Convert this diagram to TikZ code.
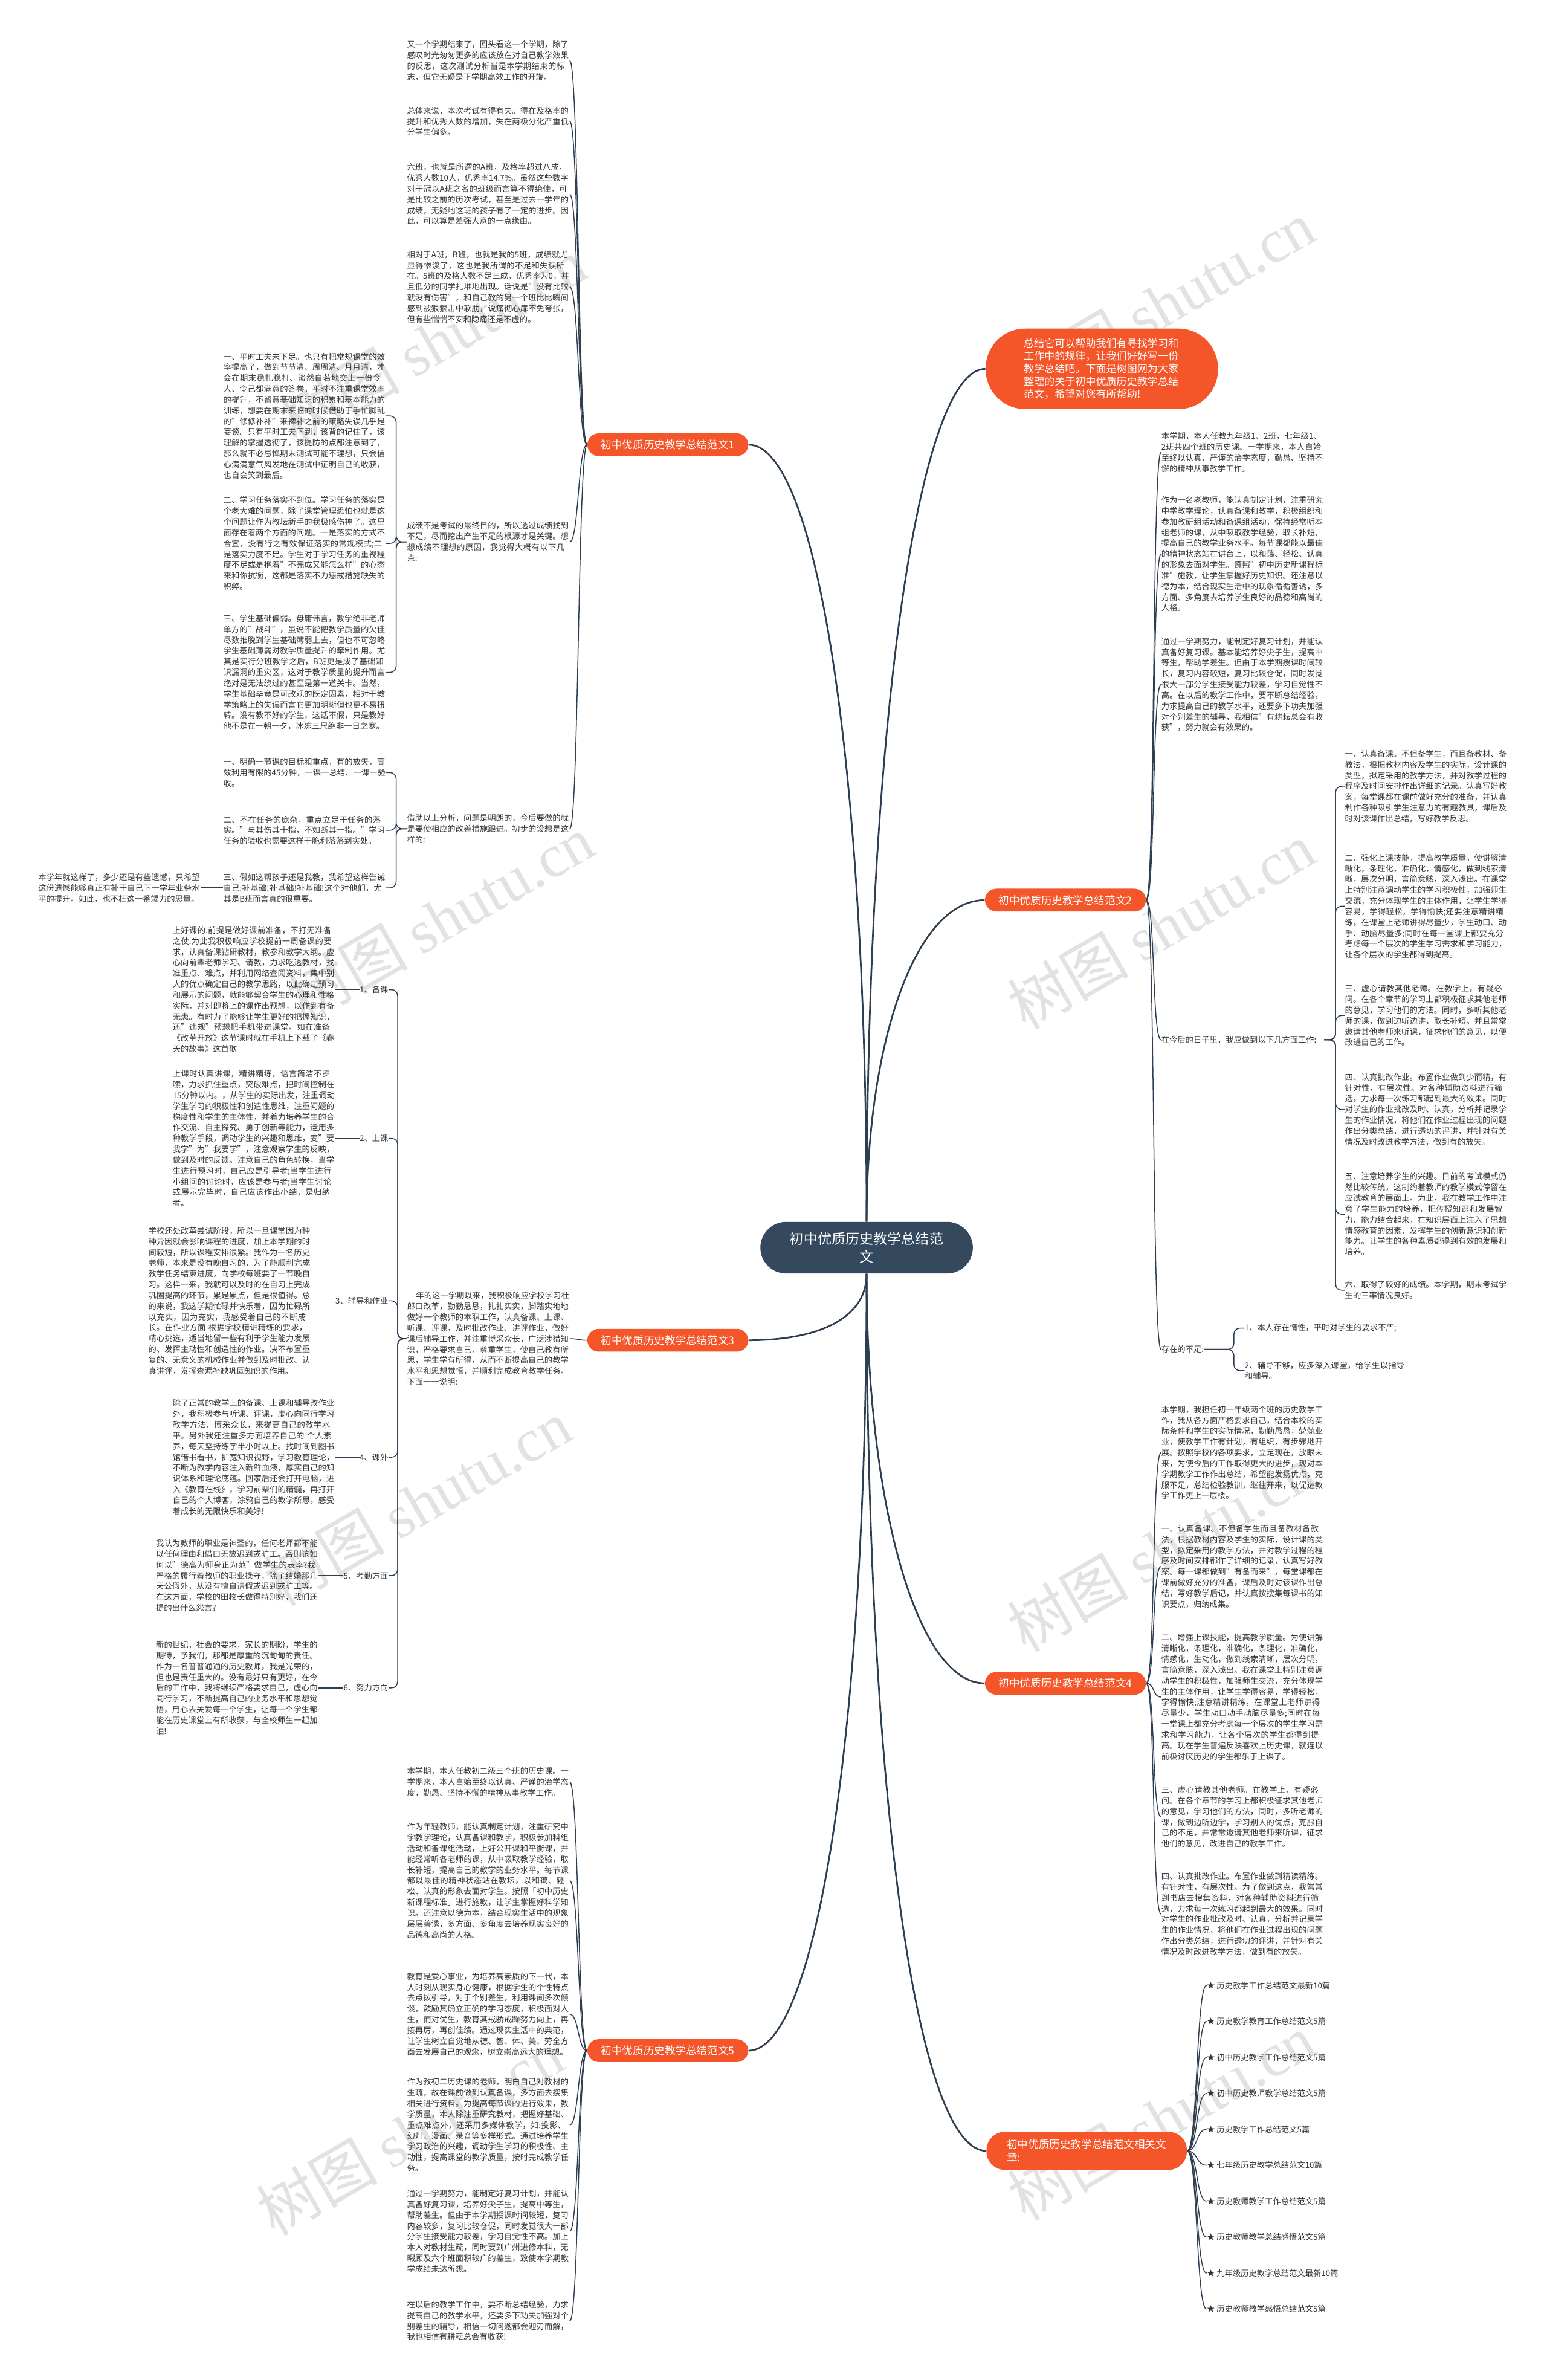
\documentclass[tikz,border=0pt]{standalone}
\usepackage{fontspec}
\setmainfont{Noto Sans CJK SC}
\newfontfamily\wmfont{Liberation Serif}
\XeTeXlinebreaklocale "zh"
\XeTeXlinebreakskip=0pt plus 0.6pt
\definecolor{rootc}{RGB}{52,73,94}
\definecolor{orangec}{RGB}{244,86,42}
\definecolor{linec}{RGB}{44,62,80}
\definecolor{txtc}{RGB}{51,51,51}
\definecolor{wmc}{RGB}{226,226,226}

\begin{document}
\begin{tikzpicture}[x=1pt,y=-1pt,
  blk/.style={text width=107pt,align=left,inner sep=0pt,text=txtc,font=\fontsize{5.3}{7.1}\selectfont},
  lab/.style={inner sep=0pt,text=txtc,font=\fontsize{5.3}{7.1}\selectfont},
  branch/.style={fill=orangec,text=white,rounded corners=7.5pt,minimum width=106pt,minimum height=15pt,inner sep=0pt,font=\fontsize{7}{8.5}\selectfont},
  link/.style={draw=linec,line width=1.1pt},
  twig/.style={draw=linec,line width=0.6pt},
  wm/.style={text=wmc,rotate=30,font=\fontsize{40}{40}\selectfont}]
  \useasboundingbox[fill=white] (0,0) rectangle (1019,1568);
  % marcas de agua
  \foreach \p in {(285,225),(765,200),(290,605),(765,610),(275,990),(765,1020),(270,1405),(765,1395)}
    \node at \p[wm]{树图 {\wmfont shutu.cn}};
  % tema central
  \node (root) at (571,822)[fill=rootc,text=white,rounded corners=17pt,minimum width=140pt,minimum height=34pt,align=center,font=\fontsize{9.2}{12}\selectfont]{初中优质历史教学总结范\\文};
  \node (intro) at (726,243)[fill=orangec,text=white,rounded corners=26pt,minimum width=153pt,minimum height=53pt,text width=103pt,align=left,inner sep=0pt,font=\fontsize{6.8}{8.4}\selectfont]{总结它可以帮助我们有寻找学习和\\工作中的规律，让我们好好写一份\\教学总结吧。下面是树图网为大家\\整理的关于初中优质历史教学总结\\范文，希望对您有所帮助!};
  \node (b1) at (440,293)[branch]{初中优质历史教学总结范文1};
  \node (b2) at (702,593)[branch]{初中优质历史教学总结范文2};
  \node (b3) at (440,883)[branch]{初中优质历史教学总结范文3};
  \node (b4) at (702,1109)[branch]{初中优质历史教学总结范文4};
  \node (b5) at (440,1351)[branch]{初中优质历史教学总结范文5};
  \node (b6) at (716,1417)[branch,minimum width=132pt,minimum height=25pt,text width=105pt,align=left,rounded corners=12pt]{初中优质历史教学总结范文相关文\\章:};

  % rama 1
  \node (a1) at (268,40)[blk,anchor=west]{又一个学期结束了，回头看这一个学期，除了感叹时光匆匆更多的应该放在对自己教学效果的反思，这次测试分析当是本学期结束的标志，但它无疑是下学期高效工作的开端。};
  \node (a2) at (268,80)[blk,anchor=west]{总体来说，本次考试有得有失。得在及格率的提升和优秀人数的增加，失在两极分化严重低分学生偏多。};
  \node (a3) at (268,128)[blk,anchor=west]{六班，也就是所谓的A班，及格率超过八成，优秀人数10人，优秀率14.7\%。虽然这些数字对于冠以A班之名的班级而言算不得绝佳，可是比较之前的历次考试，甚至是过去一学年的成绩，无疑地这班的孩子有了一定的进步。因此，可以算是差强人意的一点缘由。};
  \node (a4) at (268,189)[blk,anchor=west]{相对于A班，B班，也就是我的5班，成绩就尤显得惨淡了，这也是我所谓的不足和失误所在。5班的及格人数不足三成，优秀率为0，并且低分的同学扎堆地出现。话说是"没有比较就没有伤害"，和自己教的另一个班比比瞬间感到被狠狠击中软肋，说痛彻心扉不免夸张，但有些惴惴不安和隐痛还是不虚的。};
  \node (a5) at (268,357)[blk,anchor=west]{成绩不是考试的最终目的，所以透过成绩找到不足，尽而挖出产生不足的根源才是关键。想想成绩不理想的原因，我觉得大概有以下几点:};
  \node (a6) at (268,546)[blk,anchor=west]{借助以上分析，问题是明朗的，今后要做的就是要使相应的改善措施跟进。初步的设想是这样的:};
  \node (e1) at (147,274)[blk,anchor=west]{一、平时工夫未下足。也只有把常规课堂的效率提高了，做到节节清、周周清、月月清，才会在期末稳扎稳打、淡然自若地交上一份令人、令己都满意的答卷。平时不注重课堂效率的提升，不留意基础知识的积累和基本能力的训练，想要在期末来临的时候借助于手忙脚乱的"修修补补"来裨补之前的策略失误几乎是妄谈。只有平时工夫下到，该背的记住了，该理解的掌握透彻了，该提防的点都注意到了，那么就不必忌惮期末测试可能不理想，只会信心满满意气风发地在测试中证明自己的收获，也自会笑到最后。};
  \node (e2) at (147,358)[blk,anchor=west]{二、学习任务落实不到位。学习任务的落实是个老大难的问题，除了课堂管理恐怕也就是这个问题让作为教坛新手的我极感伤神了。这里面存在着两个方面的问题。一是落实的方式不合宜，没有行之有效保证落实的常规模式;二是落实力度不足。学生对于学习任务的重视程度不足或是抱着"不完成又能怎么样"的心态来和你抗衡，这都是落实不力惩戒措施缺失的积弊。};
  \node (e3) at (147,443)[blk,anchor=west]{三、学生基础偏弱。毋庸讳言，教学绝非老师单方的"战斗"，虽说不能把教学质量的欠佳尽数推脱到学生基础薄弱上去，但也不可忽略学生基础薄弱对教学质量提升的牵制作用。尤其是实行分班教学之后，B班更是成了基础知识漏洞的重灾区，这对于教学质量的提升而言绝对是无法绕过的甚至是第一道关卡。当然，学生基础毕竟是可改观的既定因素，相对于教学策略上的失误而言它更加明晰但也更不易扭转。没有教不好的学生，这话不假，只是教好他不是在一朝一夕，冰冻三尺绝非一日之寒。};
  \node (f1) at (147,509)[blk,anchor=west]{一、明确一节课的目标和重点，有的放矢，高效利用有限的45分钟，一课一总结、一课一验收。};
  \node (f2) at (147,547)[blk,anchor=west]{二、不在任务的庞杂，重点立足于任务的落实。"与其伤其十指，不如断其一指。"学习任务的验收也需要这样干脆利落落到实处。};
  \node (f3) at (147,585)[blk,anchor=west]{三、假如这帮孩子还是我教，我希望这样告诫自己:补基础!补基础!补基础!这个对他们，尤其是B班而言真的很重要。};
  \node (f4) at (25,585)[blk,anchor=west]{本学年就这样了，多少还是有些遗憾，只希望这份遗憾能够真正有补于自己下一学年业务水平的提升。如此，也不枉这一番竭力的思量。};

  % rama 2
  \node (g1) at (765,298)[blk,anchor=west]{本学期，本人任教九年级1、2班，七年级1、2班共四个班的历史课。一学期来，本人自始至终以认真、严谨的治学态度，勤恳、坚持不懈的精神从事教学工作。};
  \node (g2) at (765,365)[blk,anchor=west]{作为一名老教师，能认真制定计划，注重研究中学教学理论，认真备课和教学，积极组织和参加教研组活动和备课组活动，保持经常听本组老师的课，从中吸取教学经验，取长补短，提高自己的教学业务水平。每节课都能以最佳的精神状态站在讲台上，以和蔼、轻松、认真的形象去面对学生。遵照"初中历史新课程标准"施教，让学生掌握好历史知识。还注意以德为本，结合现实生活中的现象循循善诱，多方面、多角度去培养学生良好的品德和高尚的人格。};
  \node (g3) at (765,451)[blk,anchor=west]{通过一学期努力，能制定好复习计划，并能认真备好复习课。基本能培养好尖子生，提高中等生，帮助学差生。但由于本学期授课时间较长，复习内容较短，复习比较仓促，同时发觉很大一部分学生接受能力较差，学习自觉性不高。在以后的教学工作中，要不断总结经验，力求提高自己的教学水平，还要多下功夫加强对个别差生的辅导，我相信"有耕耘总会有收获"，努力就会有效果的。};
  \node (g4) at (765,685)[blk,anchor=west]{在今后的日子里，我应做到以下几方面工作:};
  \node (g5) at (765,889)[lab,anchor=west]{存在的不足:};
  \node (ga) at (886,518)[blk,anchor=west]{一、认真备课。不但备学生，而且备教材、备教法，根据教材内容及学生的实际，设计课的类型，拟定采用的教学方法，并对教学过程的程序及时间安排作出详细的记录。认真写好教案，每堂课都在课前做好充分的准备，并认真制作各种吸引学生注意力的有趣教具，课后及时对该课作出总结，写好教学反思。};
  \node (gb) at (886,597)[blk,anchor=west]{二、强化上课技能，提高教学质量。使讲解清晰化，条理化，准确化，情感化，做到线索清晰，层次分明，言简意赅，深入浅出。在课堂上特别注意调动学生的学习积极性，加强师生交流，充分体现学生的主体作用，让学生学得容易，学得轻松，学得愉快;还要注意精讲精练，在课堂上老师讲得尽量少，学生动口、动手、动脑尽量多;同时在每一堂课上都要充分考虑每一个层次的学生学习需求和学习能力，让各个层次的学生都得到提高。};
  \node (gc) at (886,669)[blk,anchor=west]{三、虚心请教其他老师。在教学上，有疑必问。在各个章节的学习上都积极征求其他老师的意见，学习他们的方法。同时，多听其他老师的课，做到边听边讲，取长补短。并且常常邀请其他老师来听课，征求他们的意见，以便改进自己的工作。};
  \node (gd) at (886,731)[blk,anchor=west]{四、认真批改作业。布置作业做到少而精，有针对性，有层次性。对各种辅助资料进行筛选，力求每一次练习都起到最大的效果。同时对学生的作业批改及时、认真，分析并记录学生的作业情况，将他们在作业过程出现的问题作出分类总结，进行透切的评讲，并针对有关情况及时改进教学方法，做到有的放矢。};
  \node (ge) at (886,800)[blk,anchor=west]{五、注意培养学生的兴趣。目前的考试模式仍然比较传统，这制约着教师的教学模式停留在应试教育的层面上。为此，我在教学工作中注意了学生能力的培养，把传授知识和发展智力、能力结合起来，在知识层面上注入了思想情感教育的因素，发挥学生的创新意识和创新能力。让学生的各种素质都得到有效的发展和培养。};
  \node (gf) at (886,850)[blk,anchor=west]{六、取得了较好的成绩。本学期，期末考试学生的三率情况良好。};
  \node (gx) at (820,875)[blk,anchor=west]{1、本人存在惰性，平时对学生的要求不严;};
  \node (gy) at (820,903)[blk,anchor=west]{2、辅导不够，应多深入课堂，给学生以指导和辅导。};

  % rama 3
  \node (h0) at (268,882)[blk,anchor=west]{\_\_年的这一学期以来，我积极响应学校学习杜郎口改革，勤勤恳恳，扎扎实实，脚踏实地地做好一个教师的本职工作，认真备课、上课、听课、评课，及时批改作业、讲评作业，做好课后辅导工作，并注重博采众长，广泛涉猎知识，严格要求自己，尊重学生，使自己教有所思，学生学有所得，从而不断提高自己的教学水平和思想觉悟，并顺利完成教育教学任务。下面一一说明:};
  \node (l1) at (256,652)[lab,anchor=east]{1、备课};
  \node (l2) at (256,750)[lab,anchor=east]{2、上课};
  \node (l3) at (256,857)[lab,anchor=east]{3、辅导和作业};
  \node (l4) at (256,960)[lab,anchor=east]{4、课外};
  \node (l5) at (256,1038)[lab,anchor=east]{5、考勤方面};
  \node (l6) at (256,1112)[lab,anchor=east]{6、努力方向};
  \node (t1) at (221,652)[blk,anchor=east]{上好课的.前提是做好课前准备，不打无准备之仗.为此我积极响应学校提前一周备课的要求，认真备课钻研教材，教参和教学大纲。虚心向前辈老师学习、请教，力求吃透教材，找准重点、难点，并利用网络查阅资料，集中别人的优点确定自己的教学思路，以此确定预习和展示的问题，就能够契合学生的心理和性格实际，并对即将上的课作出预想，以作到有备无患。有时为了能够让学生更好的把握知识，还"违规"预想把手机带进课堂。如在准备《改革开放》这节课时就在手机上下载了《春天的故事》这首歌};
  \node (t2) at (221,750)[blk,anchor=east]{上课时认真讲课，精讲精练，语言简洁不罗嗦，力求抓住重点，突破难点，把时间控制在15分钟以内。，从学生的实际出发，注重调动学生学习的积极性和创造性思维，注重问题的梯度性和学生的主体性，并着力培养学生的合作交流、自主探究、勇于创新等能力，运用多种教学手段，调动学生的兴趣和思维，变"要我学"为"我要学"，注意观察学生的反映，做到及时的反馈。注意自己的角色转换，当学生进行预习时，自己应是引导者;当学生进行小组间的讨论时，应该是参与者;当学生讨论或展示完毕时，自己应该作出小结，是归纳者。};
  \node (t3) at (205,857)[blk,anchor=east]{学校还处改革尝试阶段，所以一旦课堂因为种种异因就会影响课程的进度，加上本学期的时间较短，所以课程安排很紧。我作为一名历史老师，本来是没有晚自习的，为了能顺利完成教学任务结束进度，向学校每班要了一节晚自习。这样一来，我就可以及时的在自习上完成巩固提高的环节，累是累点，但是很值得。总的来说，我这学期忙碌并快乐着，因为忙碌所以充实，因为充实，我感受着自己的不断成长。在作业方面 根据学校精讲精练的要求，精心挑选，适当地留一些有利于学生能力发展的、发挥主动性和创造性的作业。决不布置重复的、无意义的机械作业并做到及时批改、认真讲评，发挥查漏补缺巩固知识的作用。};
  \node (t4) at (221,960)[blk,anchor=east]{除了正常的教学上的备课、上课和辅导改作业外，我积极参与听课、评课，虚心向同行学习教学方法，博采众长，来提高自己的教学水平。另外我还注重多方面培养自己的 个人素养，每天坚持练字半小时以上。找时间到图书馆借书看书，扩宽知识视野，学习教育理论，不断为教学内容注入新鲜血液，厚实自己的知识体系和理论底蕴。回家后还会打开电脑，进入《教育在线》，学习前辈们的精髓，再打开自己的个人博客，涂鸦自己的教学所思，感受着成长的无限快乐和美好!};
  \node (t5) at (210,1038)[blk,anchor=east]{我认为教师的职业是神圣的，任何老师都不能以任何理由和借口无故迟到或旷工。否则该如何以"德高为师身正为范"做学生的表率?我严格的履行着教师的职业操守，除了结婚那几天公假外，从没有擅自请假或迟到或旷工等。在这方面，学校的田校长做得特别好，我们还提的出什么怨言?};
  \node (t6) at (210,1112)[blk,anchor=east]{新的世纪，社会的要求，家长的期盼，学生的期待，予我们，那都是厚重的沉甸甸的责任。作为一名普普通通的历史教师，我是光荣的，但也是责任重大的。没有最好只有更好，在今后的工作中，我将继续严格要求自己，虚心向同行学习，不断提高自己的业务水平和思想觉悟，用心去关爱每一个学生，让每一个学生都能在历史课堂上有所收获，与全校师生一起加油!};

  % rama 4
  \node (i1) at (765,957)[blk,anchor=west]{本学期，我担任初一年级两个班的历史教学工作，我从各方面严格要求自己，结合本校的实际条件和学生的实际情况，勤勤恳恳，兢兢业业，使教学工作有计划，有组织，有步骤地开展。按照学校的各项要求，立足现在，放眼未来，为使今后的工作取得更大的进步，现对本学期教学工作作出总结，希望能发扬优点，克服不足，总结检验教训，继往开来，以促进教学工作更上一层楼。};
  \node (i2) at (765,1032)[blk,anchor=west]{一、认真备课。不但备学生而且备教材备教法，根据教材内容及学生的实际，设计课的类型，拟定采用的教学方法，并对教学过程的程序及时间安排都作了详细的记录，认真写好教案。每一课都做到"有备而来"，每堂课都在课前做好充分的准备，课后及时对该课作出总结，写好教学后记，并认真按搜集每课书的知识要点，归纳成集。};
  \node (i3) at (765,1118)[blk,anchor=west]{二、增强上课技能，提高教学质量。为使讲解清晰化，条理化，准确化，条理化，准确化，情感化，生动化，做到线索清晰，层次分明，言简意赅，深入浅出。我在课堂上特别注意调动学生的积极性，加强师生交流，充分体现学生的主体作用，让学生学得容易，学得轻松，学得愉快;注意精讲精练，在课堂上老师讲得尽量少，学生动口动手动脑尽量多;同时在每一堂课上都充分考虑每一个层次的学生学习需求和学习能力，让各个层次的学生都得到提高。现在学生普遍反映喜欢上历史课，就连以前极讨厌历史的学生都乐于上课了。};
  \node (i4) at (765,1197)[blk,anchor=west]{三、虚心请教其他老师。在教学上，有疑必问。在各个章节的学习上都积极征求其他老师的意见，学习他们的方法，同时，多听老师的课，做到边听边学，学习别人的优点，克服自己的不足，并常常邀请其他老师来听课，征求他们的意见，改进自己的教学工作。};
  \node (i5) at (765,1261)[blk,anchor=west]{四、认真批改作业。布置作业做到精读精练。有针对性，有层次性。为了做到这点，我常常到书店去搜集资料，对各种辅助资料进行筛选，力求每一次练习都起到最大的效果。同时对学生的作业批改及时、认真，分析并记录学生的作业情况，将他们在作业过程出现的问题作出分类总结，进行透切的评讲，并针对有关情况及时改进教学方法，做到有的放矢。};

  % rama 5
  \node (j1) at (268,1174)[blk,anchor=west]{本学期，本人任教初二级三个班的历史课。一学期来，本人自始至终以认真、严谨的治学态度，勤恳、坚持不懈的精神从事教学工作。};
  \node (j2) at (268,1239)[blk,anchor=west]{作为年轻教师，能认真制定计划，注重研究中学教学理论，认真备课和教学，积极参加科组活动和备课组活动，上好公开课和平衡课，并能经常听各老师的课，从中吸取教学经验，取长补短，提高自己的教学的业务水平。每节课都以最佳的精神状态站在教坛，以和蔼、轻松、认真的形象去面对学生。按照「初中历史新课程标准」进行施教，让学生掌握好科学知识。还注意以德为本，结合现实生活中的现象层层善诱，多方面、多角度去培养现实良好的品德和高尚的人格。};
  \node (j3) at (268,1327)[blk,anchor=west]{教育是爱心事业，为培养高素质的下一代，本人时刻从现实身心健康，根据学生的个性特点去点拨引导，对于个别差生，利用课间多次倾谈，鼓励其确立正确的学习态度，积极面对人生，而对优生，教育其戒骄戒躁努力向上，再接再厉，再创佳绩。通过现实生活中的典范，让学生树立自觉地从德、智、体、美、劳全方面去发展自己的观念，树立崇高远大的理想。};
  \node (j4) at (268,1400)[blk,anchor=west]{作为教初二历史课的老师，明白自己对教材的生疏，故在课前做到认真备课，多方面去搜集相关进行资料。为提高每节课的进行效果，教学质量，本人除注重研究教材，把握好基础、重点难点外，还采用多媒体教学，如:投影、幻灯、漫画、录音等多样形式。通过培养学生学习政治的兴趣，调动学生学习的积极性、主动性，提高课堂的教学质量，按时完成教学任务。};
  \node (j5) at (268,1470)[blk,anchor=west]{通过一学期努力，能制定好复习计划，并能认真备好复习课，培养好尖子生，提高中等生，帮助差生。但由于本学期授课时间较短，复习内容较多，复习比较仓促，同时发觉很大一部分学生接受能力较差，学习自觉性不高。加上本人对教材生疏，同时要到广州进修本科，无暇顾及六个班面积较广的差生，致使本学期教学成绩未达所想。};
  \node (j6) at (268,1529)[blk,anchor=west]{在以后的教学工作中，要不断总结经验，力求提高自己的教学水平，还要多下功夫加强对个别差生的辅导，相信一切问题都会迎刃而解，我也相信有耕耘总会有收获!};

  % rama 6
  \foreach \t [count=\k] in {历史教学工作总结范文最新10篇,历史教学教育工作总结范文5篇,初中历史教学工作总结范文5篇,初中历史教师教学总结范文5篇,历史教学工作总结范文5篇,七年级历史教学总结范文10篇,历史教师教学工作总结范文5篇,历史教师教学总结感悟范文5篇,九年级历史教学总结范文最新10篇,历史教师教学感悟总结范文5篇}
    \node (k\k) at (795,1284.3+23.7*\k)[lab,anchor=west]{★ \t};

  % conectores del centro
  \draw[link] (root.north) .. controls +(0,-300) and +(45,0) .. (b1.east);
  \draw[link] (root.north) .. controls +(0,-320) and +(-45,0) .. (intro.west);
  \draw[link] (root.north) .. controls +(0,-120) and +(-45,0) .. (b2.west);
  \draw[link] (root.south) .. controls +(0,30) and +(45,0) .. (b3.east);
  \draw[link] (root.south) .. controls +(0,150) and +(-45,0) .. (b4.west);
  \draw[link] (root.south) .. controls +(0,300) and +(45,0) .. (b5.east);
  \draw[link] (root.south) .. controls +(0,350) and +(-45,0) .. (b6.west);
  % conectores de las ramas
  \foreach \c in {a1,a2,a3,a4,a5,a6} \draw[twig] (b1.west) .. controls +(-6,0) and +(6,0) .. (\c.east);
  \foreach \c in {g1,g2,g3,g4,g5} \draw[twig] (b2.east) .. controls +(6,0) and +(-6,0) .. (\c.west);
  \draw[twig] (b3.west) .. controls +(-6,0) and +(6,0) .. (h0.east);
  \foreach \c in {i1,i2,i3,i4,i5} \draw[twig] (b4.east) .. controls +(6,0) and +(-6,0) .. (\c.west);
  \foreach \c in {j1,j2,j3,j4,j5,j6} \draw[twig] (b5.west) .. controls +(-6,0) and +(6,0) .. (\c.east);
  \foreach \k in {1,...,10} \draw[twig] (b6.east) .. controls +(7,0) and +(-7,0) .. (k\k.west);
  % llaves
  \foreach \c in {e1,e2,e3} \draw[twig,rounded corners=4pt] (a5.west) -- (261,357) |- (\c.east);
  \foreach \c in {f1,f2,f3} \draw[twig,rounded corners=4pt] (a6.west) -- (261,546) |- (\c.east);
  \draw[twig] (f3.west) -- (f4.east);
  \foreach \c in {ga,gb,gc,gd,ge,gf} \draw[twig,rounded corners=4pt] (g4.east) -- (880,685) |- (\c.west);
  \foreach \c in {gx,gy} \draw[twig,rounded corners=4pt] (g5.east) -- (813,889) |- (\c.west);
  \foreach \k in {1,...,6} {
    \draw[twig,rounded corners=4pt] (h0.west) -- (262,882) |- (l\k.east);
    \draw[twig] (l\k.west) -- (t\k.east);
  }
\end{tikzpicture}
\end{document}
